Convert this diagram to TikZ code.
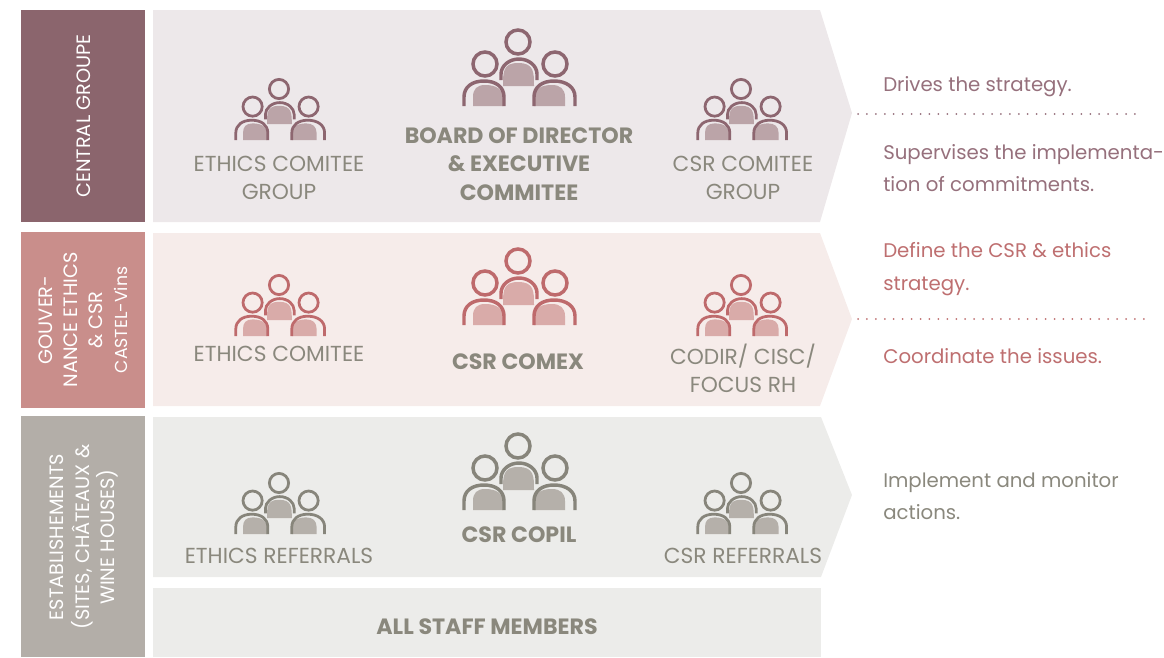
\documentclass[tikz,border=0pt]{standalone}
\usepackage{fontspec}
\setmainfont{Poppins}
\definecolor{rowa}{HTML}{8B656D}
\definecolor{rowb}{HTML}{C98E8B}
\definecolor{rowc}{HTML}{B3AEA8}
\definecolor{lighta}{HTML}{EDE8EA}
\definecolor{lightb}{HTML}{F6ECEA}
\definecolor{lightc}{HTML}{ECECEA}
\definecolor{linea}{HTML}{8D6670}
\definecolor{lineb}{HTML}{BE6A6C}
\definecolor{linec}{HTML}{87857B}
\definecolor{filla}{HTML}{BBA4A8}
\definecolor{fillb}{HTML}{D9ABA9}
\definecolor{fillc}{HTML}{B5B0AA}
\definecolor{texta}{HTML}{96707C}
\definecolor{textb}{HTML}{BE6F70}
\definecolor{textc}{HTML}{8A887D}
\tikzset{
  sidebox/.style={white,font=\fontsize{14.5}{18.8}\selectfont,align=center,rotate=90},
  unitname/.style={textc,font=\fontsize{16.3}{21.2}\selectfont,align=center},
  unitbold/.style={textc,font=\fontsize{16.6}{21.2}\bfseries\selectfont,align=center},
  sidenote/.style={font=\fontsize{14.8}{24.6}\selectfont,align=left,anchor=west,inner sep=0pt},
  dotline/.style={line width=1.5pt,line cap=round,dash pattern=on 0pt off 6.7pt}
}
% one group of three people, #1 = line colour, #2 = fill colour
\newcommand{\peoplegroup}[5]{%
\begin{scope}[shift={(#1,#2)},scale=#3,line width=#3*2.6pt,draw=#4,fill=#5]
\fill (-15,44) .. controls (-15,30) and (-15,21) .. (0,21) .. controls (16,21) and (16,30) .. (16,44) -- cycle;
\draw (-17,38) -- (-17,32) .. controls (-17,24) and (-9,17) .. (1,17) .. controls (11,17) and (19,24) .. (19,32) -- (19,38);
\draw (0,0) circle (12);
\fill (-45,64) -- (-45,55) .. controls (-45,47) and (-41,43) .. (-33,43) .. controls (-22,43) and (-15,47) .. (-15,56) -- (-15,64) -- cycle;
\draw (-54,64) -- (-54,55) .. controls (-54,45) and (-46,39) .. (-34,39) .. controls (-22,39) and (-14,45) .. (-14,55) -- (-14,64);
\draw (-33,22) circle (12);
\fill (16,64) -- (16,56) .. controls (16,47) and (23,43) .. (34,43) .. controls (42,43) and (47,47) .. (47,55) -- (47,64) -- cycle;
\draw (16,64) -- (16,55) .. controls (16,45) and (24,39) .. (36,39) .. controls (48,39) and (57,45) .. (57,55) -- (57,64);
\draw (37,22) circle (12);
\end{scope}}

\begin{document}
\begin{tikzpicture}[x=0.75pt,y=-0.75pt]
\useasboundingbox (0,0) rectangle (1164,657);

% left column
\fill[rowa] (21,10) rectangle (145,222);
\fill[rowb] (21,232) rectangle (145,408);
\fill[rowc] (21,416) rectangle (145,657);

% panels
\fill[lighta] (153,10) -- (820,10) -- (852,113) -- (820,222) -- (153,222) -- cycle;
\fill[lightb] (153,233) -- (820,233) -- (852,319) -- (820,406) -- (153,406) -- cycle;
\fill[lightc] (153,417) -- (821,417) -- (852,495) -- (821,577) -- (153,577) -- cycle;
\fill[lightc] (153,588) rectangle (821,657);

% side labels
\node[sidebox] (central) at (84,116) {CENTRAL GROUPE};
\node[sidebox] (gouv) at (83,320) {GOUVER-\\NANCE ETHICS\\\& CSR\\{\fontsize{13}{18.8}\selectfont CASTEL-Vins}};
\node[sidebox] (estab) at (84,537) {ESTABLISHEMENTS\\(SITES, CHÂTEAUX \&\\WINE HOUSES)};

% people
\foreach \ix/\iy/\iscale/\iline/\ifill in {
  518/42/1/linea/filla, 279/89/0.8/linea/filla, 741/89/0.8/linea/filla,
  518/261/1/lineb/fillb, 279/285/0.8/lineb/fillb, 741/285/0.8/lineb/fillb,
  518/446/1/linec/fillc, 279/483/0.8/linec/fillc, 741/483/0.8/linec/fillc}
  {\peoplegroup{\ix}{\iy}{\iscale}{\iline}{\ifill}}

% unit names
\node[unitname] (ethicsa) at (279,178) {ETHICS COMITEE\\GROUP};
\node[unitbold] (board) at (519,164) {BOARD OF DIRECTOR\\\& EXECUTIVE\\COMMITEE};
\node[unitname] (csra) at (743,178) {CSR COMITEE\\GROUP};
\node[unitname] (ethicsb) at (279,354) {ETHICS COMITEE};
\node[unitbold] (comex) at (518,362) {CSR COMEX};
\node[unitname] (codir) at (743,368) {CODIR/ CISC/\\FOCUS RH};
\node[unitname] (ethicsc) at (279,556) {ETHICS REFERRALS};
\node[unitbold] (copil) at (519,535) {CSR COPIL};
\node[unitname] (csrc) at (743,556) {CSR REFERRALS};
\node[unitbold] (staff) at (487,627) {ALL STAFF MEMBERS};

% notes on the right
\node[sidenote,texta] (drives) at (883,87) {Drives the strategy.};
\node[sidenote,texta] (supervises) at (883,168) {Supervises the implementa-\\tion of commitments.};
\node[sidenote,textb] (define) at (883,269) {Define the CSR \& ethics\\strategy.};
\node[sidenote,textb] (coordinate) at (883,356) {Coordinate the issues.};
\node[sidenote,textc] (implement) at (883,496) {Implement and monitor\\actions.};

\coordinate (dota) at (858,114);
\coordinate (dotb) at (1140,114);
\coordinate (dotc) at (858,319);
\coordinate (dotd) at (1150,319);
\draw[dotline,texta] (dota) -- (dotb);
\draw[dotline,textb] (dotc) -- (dotd);
\end{tikzpicture}
\end{document}
